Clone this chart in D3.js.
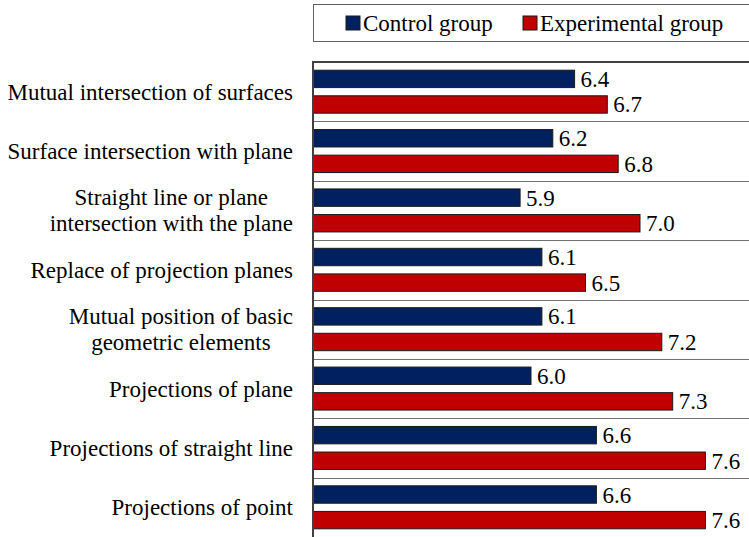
<!DOCTYPE html>
<html>
<head>
<meta charset="utf-8">
<script src="https://cdn.jsdelivr.net/npm/d3@7/dist/d3.min.js"></script>
<style>
  html, body { margin: 0; padding: 0; background: #fff; }
  svg { display: block; }
</style>
</head>
<body>
<svg id="chart" width="749" height="537"></svg>
<script>
const categories = [
  ["Mutual intersection of surfaces"],
  ["Surface intersection with plane"],
  ["Straight line or plane", "intersection with the plane"],
  ["Replace of projection planes"],
  ["Mutual position of basic", "geometric elements"],
  ["Projections of plane"],
  ["Projections of straight line"],
  ["Projections of point"]
];
const seriesNames = ["Control group", "Experimental group"];
const controlValues = [6.4, 6.2, 5.9, 6.1, 6.1, 6.0, 6.6, 6.6];
const experimentalValues = [6.7, 6.8, 7.0, 6.5, 7.2, 7.3, 7.6, 7.6];
const seriesColors = ["#002060", "#C00000"];
const xDomain = [4, 8];

const FONT = '"Liberation Serif"';
const svg = d3.select("#chart");
const W = 749, H = 537;
const plot = { left: 313, right: 749, top: 62, bottom: 537 };
const FS = "23px";

function txt(sel) {
  return sel.style("font-family", FONT).style("font-size", FS).style("fill", "#000");
}

const catIdx = categories.map((d, i) => i);
const y = d3.scaleBand().domain(catIdx).range([plot.top, plot.bottom]).paddingInner(0).paddingOuter(0);
const ySub = d3.scaleBand().domain([0, 1]).range([0, y.bandwidth()]).padding(0.32);
const x = d3.scaleLinear().domain(xDomain).range([plot.left, plot.right]);

const data = catIdx.map(i => ({ i, vals: [controlValues[i], experimentalValues[i]] }));

// gridlines between categories
svg.append("g").selectAll("line")
  .data(catIdx.slice(1))
  .join("line")
  .attr("x1", plot.left).attr("x2", W)
  .attr("y1", d => Math.round(y(d)) + 0.5).attr("y2", d => Math.round(y(d)) + 0.5)
  .attr("stroke", "#707070").attr("stroke-width", 1);

// top border
svg.append("line")
  .attr("x1", plot.left - 1).attr("x2", W)
  .attr("y1", plot.top).attr("y2", plot.top)
  .attr("stroke", "#404040").attr("stroke-width", 2);

// bars
const groups = svg.append("g").selectAll("g")
  .data(data).join("g")
  .attr("transform", d => `translate(0,${y(d.i)})`);

groups.selectAll("rect")
  .data(d => d.vals.map((v, s) => ({ v, s })))
  .join("rect")
  .attr("x", x(xDomain[0]))
  .attr("y", d => ySub(d.s))
  .attr("width", d => x(d.v) - x(xDomain[0]))
  .attr("height", ySub.bandwidth())
  .attr("fill", d => seriesColors[d.s])
  .attr("stroke", "#1a1a1a")
  .attr("stroke-width", 1);

groups.selectAll("text.val")
  .data(d => d.vals.map((v, s) => ({ v, s })))
  .join("text")
  .attr("class", "val")
  .attr("x", d => x(d.v) + 6)
  .attr("y", d => ySub(d.s) + ySub.bandwidth() / 2 + 8)
  .call(txt)
  .text(d => d3.format(".1f")(d.v));

// y axis line
svg.append("line")
  .attr("x1", plot.left).attr("x2", plot.left)
  .attr("y1", plot.top - 1).attr("y2", plot.bottom)
  .attr("stroke", "#404040").attr("stroke-width", 2);

// category labels
const labelRight = 293;
const lineH = 26;
categories.forEach((lines, i) => {
  const cy = y(i) + y.bandwidth() / 2;
  const g = svg.append("g");
  const texts = lines.map((ln, k) => g.append("text")
    .call(txt)
    .attr("text-anchor", "middle")
    .attr("y", cy + 8 + (k - (lines.length - 1) / 2) * lineH)
    .text(ln));
  const widths = texts.map(t => t.node().getComputedTextLength());
  const maxW = d3.max(widths);
  const centerX = labelRight - maxW / 2;
  texts.forEach(t => t.attr("x", centerX));
});

// legend
const legend = svg.append("g");
legend.append("rect")
  .attr("x", 313.5).attr("y", 4.5)
  .attr("width", W).attr("height", 37)
  .attr("fill", "#fff").attr("stroke", "#606060").attr("stroke-width", 1);
const legendItems = [
  { name: seriesNames[0], color: seriesColors[0], mx: 346 },
  { name: seriesNames[1], color: seriesColors[1], mx: 523 }
];
legendItems.forEach(it => {
  legend.append("rect")
    .attr("x", it.mx).attr("y", 16)
    .attr("width", 14).attr("height", 14)
    .attr("fill", it.color).attr("stroke", "#1a1a1a").attr("stroke-width", 1);
  legend.append("text")
    .attr("x", it.mx + 17).attr("y", 30.5)
    .call(txt)
    .text(it.name);
});
</script>
</body>
</html>
